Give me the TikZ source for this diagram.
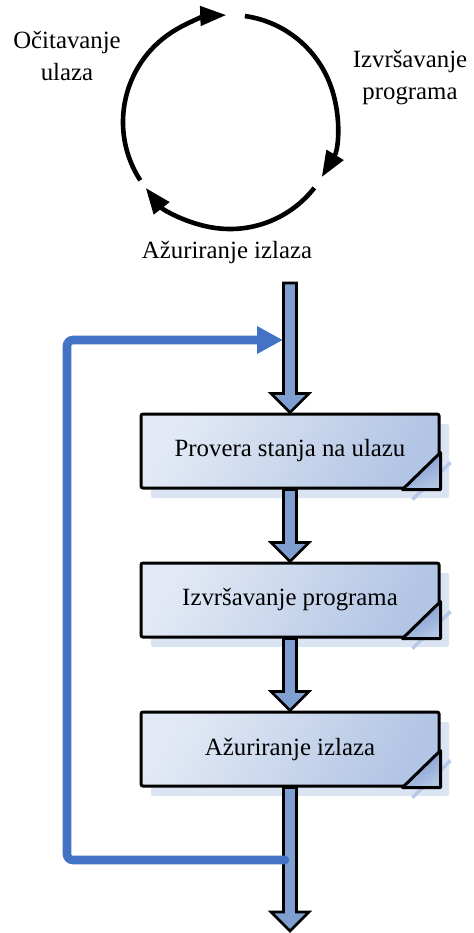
\documentclass[tikz,border=0pt]{standalone}
\usepackage{fontspec}
\setmainfont{Liberation Serif}
\usetikzlibrary{arrows.meta,shadows,calc}

\definecolor{boxlight}{RGB}{226,233,245}
\definecolor{boxdark}{RGB}{178,197,228}
\definecolor{shadowblue}{RGB}{219,228,243}
\definecolor{shadowline}{RGB}{184,200,231}
\definecolor{foldblue}{RGB}{120,148,204}
\definecolor{arrowblue}{RGB}{127,159,208}
\definecolor{loopblue}{RGB}{68,114,196}

% block arrow from one point straight down to another
\newcommand{\blockarrow}[2]{%
  \draw[flowarrow] let \p1=(#1), \p2=(#2) in
    (\x1-3.25pt,\y1) -- (\x1-3.25pt,\y2+9.5pt) -- (\x1-9.5pt,\y2+9.5pt) -- (\x1,\y2)
    -- (\x1+9.5pt,\y2+9.5pt) -- (\x1+3.25pt,\y2+9.5pt) -- (\x1+3.25pt,\y1) -- cycle;}

\begin{document}
\begin{tikzpicture}[x=0.5pt,y=-0.5pt,
    font=\fontsize{12.4}{16}\selectfont,
    stage/.style={draw, line width=1.5pt, rounded corners=1pt,
      minimum width=149pt, minimum height=37pt,
      top color=boxlight, bottom color=boxdark, shading angle=60,
      drop shadow={shadow xshift=5pt, shadow yshift=-5pt, fill=shadowblue, opacity=1}},
    flowarrow/.style={draw=black, line width=1.3pt, fill=arrowblue, line join=miter},
    cycarrow/.style={line width=2.3pt, -{Triangle[length=13pt,width=9.5pt]}},
    loopline/.style={draw=loopblue, line width=4.3pt, rounded corners=3pt, line cap=round,
      -{Triangle[length=13pt,width=13pt]}},
    caption/.style={align=center, inner sep=0pt}]
  \useasboundingbox (0,0) rectangle (473,933);

  % cycle at the top
  \coordinate (cyc) at (230,122);
  \draw[cycarrow] ([shift={(-213:107)}]cyc) arc[start angle=-213, end angle=-92, radius=107];
  \draw[cycarrow] ([shift={(-82:107)}]cyc) arc[start angle=-82, end angle=31, radius=107];
  \draw[cycarrow] ([shift={(38:107)}]cyc) arc[start angle=38, end angle=142, radius=107];

  \node[caption] (read) at (67,56) {Očitavanje\\ulaza};
  \node[caption] (run) at (410,78) {Izvršavanje\\programa};
  \node[caption] (write) at (227,253) {Ažuriranje izlaza};

  % flow chart
  \node[stage] (check) at (290,451) {Provera stanja na ulazu};
  \node[stage] (exec) at (290,600) {Izvršavanje programa};
  \node[stage] (update) at (290,749) {Ažuriranje izlaza};

  \foreach \b in {check,exec,update} {
    \draw[shadowline, line width=1.8pt] ([xshift=-14pt,yshift=-5pt]\b.south east) -- ([xshift=5pt,yshift=13.5pt]\b.south east);
    \fill[left color=foldblue, right color=boxdark, shading angle=30]
      ([xshift=-19pt]\b.south east) -- (\b.south east) -- ([yshift=18.5pt]\b.south east) -- cycle;
    \draw[line width=1.5pt, line join=round] ([xshift=-19pt]\b.south east) -- (\b.south east)
      -- ([yshift=18.5pt]\b.south east) -- cycle;
  }

  \coordinate (in) at (290,283);
  \coordinate (out) at (290,931);
  \blockarrow{in}{check.north}
  \blockarrow{check.south}{exec.north}
  \blockarrow{exec.south}{update.north}
  \blockarrow{update.south}{out}

  % feedback loop
  \coordinate (loopfrom) at (285,860);
  \coordinate (loopleft) at (67,600);
  \coordinate (loopto) at (283,340);
  \draw[loopline] (loopfrom) -| (loopleft) |- (loopto);
\end{tikzpicture}
\end{document}
